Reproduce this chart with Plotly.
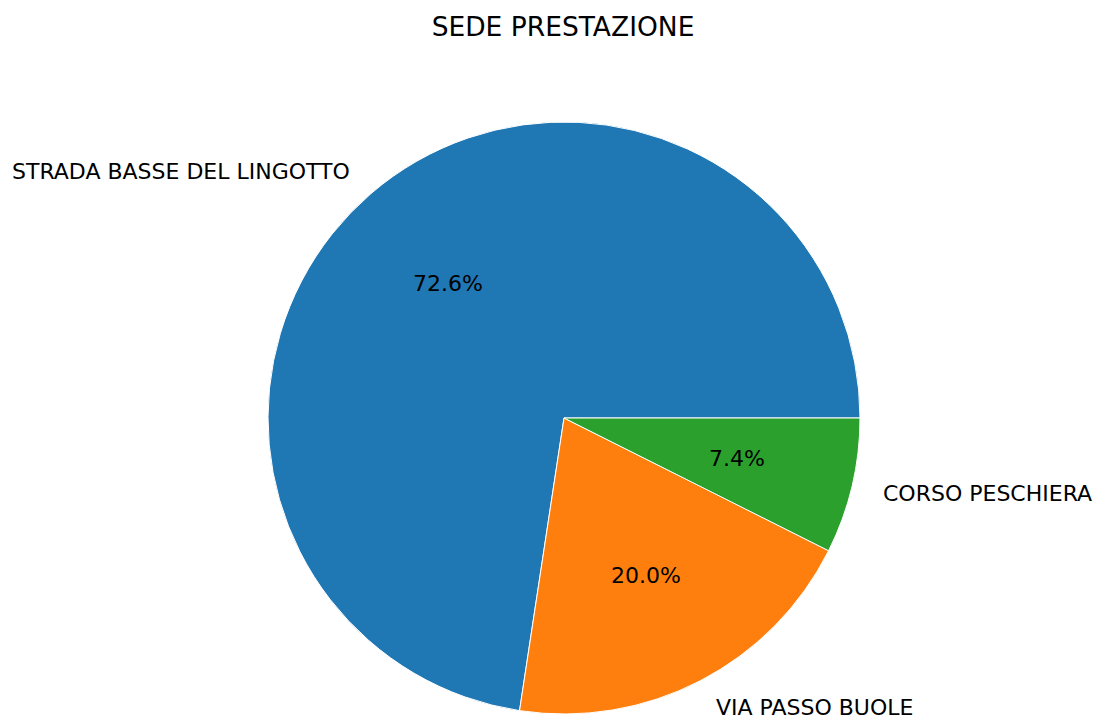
"""Pie chart of service locations (SEDE PRESTAZIONE)."""

import math

import plotly.graph_objects as go

LABELS = ["STRADA BASSE DEL LINGOTTO", "VIA PASSO BUOLE", "CORSO PESCHIERA"]
VALUES = [72.6, 20.0, 7.4]
COLORS = ["#1f77b4", "#ff7f0e", "#2ca02c"]

WIDTH, HEIGHT = 1097, 719
CENTER_PX = (564, 418)
RADIUS_PX = 296
FONT = "DejaVu Sans"

domain_x = [(CENTER_PX[0] - RADIUS_PX) / WIDTH, (CENTER_PX[0] + RADIUS_PX) / WIDTH]
domain_y = [1 - (CENTER_PX[1] + RADIUS_PX) / HEIGHT, 1 - (CENTER_PX[1] - RADIUS_PX) / HEIGHT]

total = sum(VALUES)
# plotly's counterclockwise pies end the first slice at `rotation`;
# shift so the first slice starts at 3 o'clock like matplotlib
rotation = 90 - 360 * VALUES[0] / total

fig = go.Figure(
    go.Pie(
        labels=LABELS,
        values=VALUES,
        marker=dict(colors=COLORS, line=dict(color="white", width=1)),
        sort=False,
        direction="counterclockwise",
        rotation=rotation,
        textinfo="none",
        hoverinfo="label+percent",
        domain=dict(x=domain_x, y=domain_y),
        showlegend=False,
    )
)

# matplotlib-style labels: names at 1.1 r, percentages at 0.6 r
start = 0.0
annotations = []
for label, value in zip(LABELS, VALUES):
    mid = 2 * math.pi * (start + value / 2) / total
    start += value
    cx, cy = math.cos(mid), math.sin(mid)
    px = CENTER_PX[0] + 1.1 * RADIUS_PX * cx
    py = CENTER_PX[1] - 1.1 * RADIUS_PX * cy
    annotations.append(
        dict(
            x=px / WIDTH, y=1 - py / HEIGHT, xref="paper", yref="paper",
            text=label, showarrow=False,
            xanchor="left" if cx >= 0 else "right", yanchor="middle",
            font=dict(family=FONT, size=22, color="#000000"),
        )
    )
    px = CENTER_PX[0] + 0.6 * RADIUS_PX * cx
    py = CENTER_PX[1] - 0.6 * RADIUS_PX * cy
    annotations.append(
        dict(
            x=px / WIDTH, y=1 - py / HEIGHT, xref="paper", yref="paper",
            text=f"{100 * value / total:.1f}%", showarrow=False,
            xanchor="center", yanchor="middle",
            font=dict(family=FONT, size=22, color="#000000"),
        )
    )

fig.update_layout(
    width=WIDTH,
    height=HEIGHT,
    margin=dict(l=0, r=0, t=0, b=0),
    paper_bgcolor="white",
    plot_bgcolor="white",
    title=dict(
        text="SEDE PRESTAZIONE",
        x=0.5 * (432 + 694) / WIDTH, y=1 - 27 / HEIGHT,
        xanchor="center", yanchor="middle",
        font=dict(family=FONT, size=26.5, color="#000000"),
    ),
    annotations=annotations,
)

fig.write_html(
    "out.html",
    config={"displayModeBar": False},
    post_script="document.body.style.margin = '0';",
)
